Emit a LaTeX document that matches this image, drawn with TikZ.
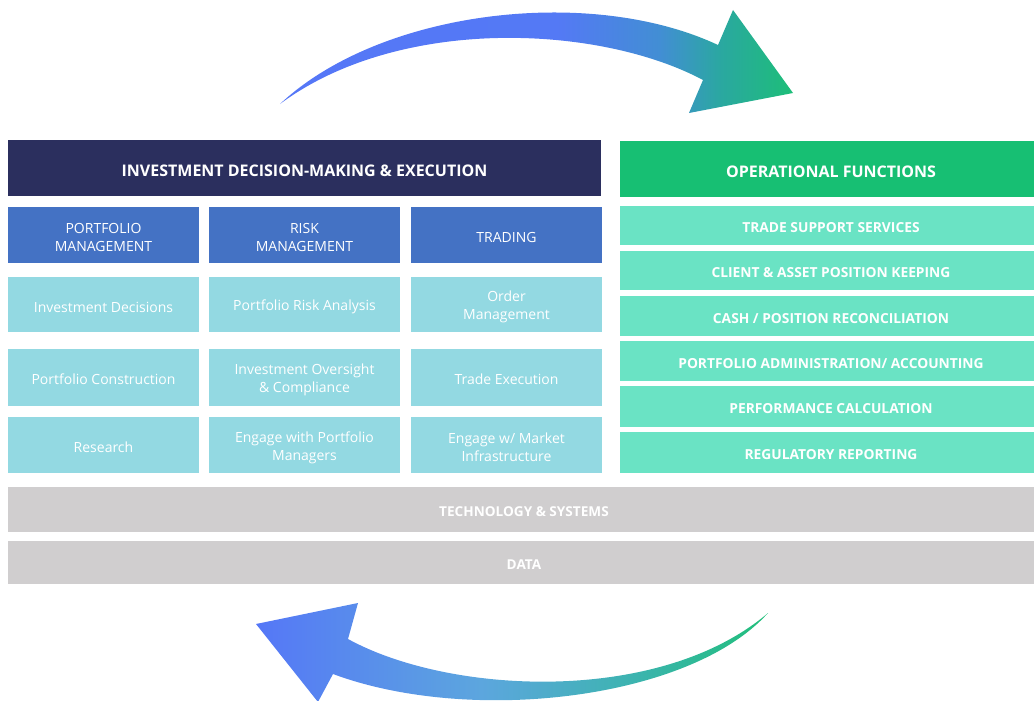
\documentclass[tikz,border=0pt]{standalone}
\usepackage{fontspec}
\setmainfont{Open Sans}
\definecolor{navy}{HTML}{2B2F5E}
\definecolor{subblue}{HTML}{4472C4}
\definecolor{teal}{HTML}{93D9E2}
\definecolor{opgreen}{HTML}{17BF73}
\definecolor{mint}{HTML}{6AE3C4}
\definecolor{bargrey}{HTML}{D0CECF}
% gradients of the two curved arrows (25bp..75bp span the path)
\pgfdeclarehorizontalshading{forwardgrad}{100bp}{%
  color(0bp)=(rgb,255:red,85;green,119;blue,247);
  color(25bp)=(rgb,255:red,85;green,119;blue,247);
  color(52bp)=(rgb,255:red,84;green,121;blue,245);
  color(62bp)=(rgb,255:red,66;green,142;blue,212);
  color(68bp)=(rgb,255:red,42;green,168;blue,160);
  color(75bp)=(rgb,255:red,29;green,190;blue,120);
  color(100bp)=(rgb,255:red,29;green,190;blue,120)}
\pgfdeclarehorizontalshading{returngrad}{100bp}{%
  color(0bp)=(rgb,255:red,85;green,119;blue,247);
  color(25bp)=(rgb,255:red,85;green,119;blue,247);
  color(47bp)=(rgb,255:red,92;green,166;blue,222);
  color(62bp)=(rgb,255:red,60;green,180;blue,175);
  color(75bp)=(rgb,255:red,32;green,191;blue,122);
  color(100bp)=(rgb,255:red,32;green,191;blue,122)}
% a filled cell (named #3) with its label (named #3-t) set a little low
\newcommand\fcell[5][]{%
  \node[#2, #1] (#3) at (#4) {};
  \node[#2 text] (#3-t) at (#3) {#5};}
\begin{document}
\begin{tikzpicture}[x=1pt,y=-1pt,
  cell/.style={rectangle, inner sep=0pt},
  label text/.style={inner sep=0pt, text=white, align=center, yshift=-2.5pt},
  navyhead/.style={cell, fill=navy, minimum width=593pt, minimum height=56pt},
  navyhead text/.style={label text, font=\fontsize{16}{19}\selectfont\bfseries},
  subcell/.style={cell, fill=subblue, minimum width=191pt, minimum height=56pt},
  subcell text/.style={label text, font=\fontsize{14}{18}\selectfont},
  taskcell/.style={cell, fill=teal, minimum width=191pt, minimum height=56pt},
  taskcell text/.style={label text, font=\fontsize{14}{18}\selectfont},
  ophead/.style={cell, fill=opgreen, minimum width=414pt, minimum height=56pt},
  ophead text/.style={label text, font=\fontsize{16}{19}\selectfont\bfseries, xshift=4pt},
  oprow/.style={cell, fill=mint, minimum width=414pt, minimum height=40pt},
  oprow text/.style={label text, font=\fontsize{13.8}{16}\selectfont\bfseries, xshift=4pt},
  layerbar/.style={cell, fill=bargrey, minimum width=1026pt},
  layerbar text/.style={label text, font=\fontsize{13.6}{16}\selectfont\bfseries, xshift=3pt}
]
\useasboundingbox (0,0) rectangle (1034,701);

% curved arrow, top: towards operations
\shade[shading=forwardgrad]
  (280,104) .. controls (380,10) and (590,-15) .. (718,45)
  -- (733,10) -- (793,93) -- (689,113) -- (703,80)
  .. controls (600,25) and (400,15) .. (280,104) -- cycle;

% curved arrow, bottom: back to investment side
\shade[shading=returngrad]
  (256,624) -- (358,603) -- (348,639)
  .. controls (450,695) and (660,705) .. (768,613)
  .. controls (690,700) and (470,725) .. (333,674)
  -- (318,702) -- cycle;

% investment decision-making side
\fcell{navyhead}{ide}{304.5,168}{INVESTMENT DECISION-MAKING \& EXECUTION}

\fcell{subcell}{pm}{103.5,235}{PORTFOLIO\\MANAGEMENT}
\fcell{subcell}{rm}{304.5,235}{RISK\\MANAGEMENT}
\fcell{subcell}{tr}{506.5,235}{TRADING}

\fcell[minimum height=55pt]{taskcell}{pm1}{103.5,304.5}{Investment Decisions}
\fcell[minimum height=55pt]{taskcell}{rm1}{304.5,304.5}{Portfolio Risk Analysis}
\fcell[minimum height=55pt]{taskcell}{tr1}{506.5,304.5}{Order\\Management}

\fcell[minimum height=57pt]{taskcell}{pm2}{103.5,377}{Portfolio Construction}
\fcell[minimum height=57pt]{taskcell}{rm2}{304.5,377}{Investment Oversight\\\& Compliance}
\fcell[minimum height=57pt]{taskcell}{tr2}{506.5,377}{Trade Execution}

\fcell{taskcell}{pm3}{103.5,445}{Research}
\fcell{taskcell}{rm3}{304.5,445}{Engage with Portfolio\\Managers}
\fcell{taskcell}{tr3}{506.5,445}{Engage w/ Market\\Infrastructure}

% operational side
\fcell{ophead}{ops}{827,169}{OPERATIONAL FUNCTIONS}
\fcell[minimum height=39pt]{oprow}{op1}{827,225.5}{TRADE SUPPORT SERVICES}
\fcell[minimum height=39pt]{oprow}{op2}{827,270.5}{CLIENT \& ASSET POSITION KEEPING}
\fcell{oprow}{op3}{827,316}{CASH / POSITION RECONCILIATION}
\fcell{oprow}{op4}{827,361}{PORTFOLIO ADMINISTRATION/ ACCOUNTING}
\fcell[minimum height=41pt]{oprow}{op5}{827,406.5}{PERFORMANCE CALCULATION}
\fcell[minimum height=41pt]{oprow}{op6}{827,452.5}{REGULATORY REPORTING}

% shared layers
\fcell[minimum height=45pt]{layerbar}{tech}{521,509.5}{TECHNOLOGY \& SYSTEMS}
\fcell[minimum height=43pt]{layerbar}{data}{521,562.5}{DATA}
\end{tikzpicture}
\end{document}
